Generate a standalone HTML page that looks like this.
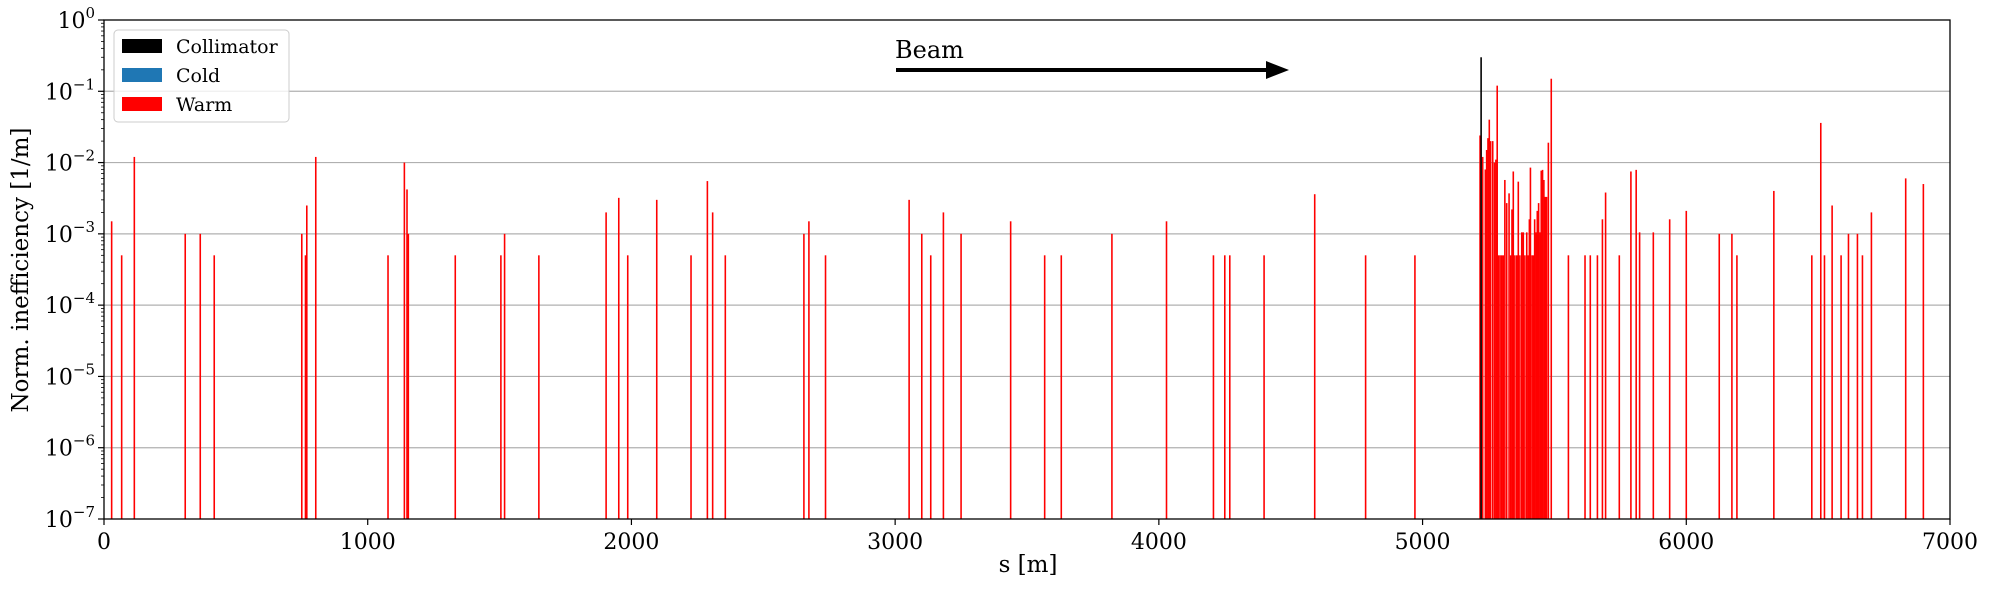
<!DOCTYPE html>
<html><head><meta charset="utf-8"><style>
body{margin:0;background:#fff;}
svg{display:block;font-family:"DejaVu Serif","Liberation Serif",serif;}
</style></head><body>
<svg id="chart" width="1989" height="590" xmlns="http://www.w3.org/2000/svg">
<g id="grid"></g>
<g id="bars"></g>
<g id="axes"></g>
<text x="1028" y="572" font-size="23" text-anchor="middle">s [m]</text>
<text transform="translate(28,270) rotate(-90)" font-size="23" text-anchor="middle">Norm. inefficiency [1/m]</text>
<g>
<text x="895" y="58" font-size="24">Beam</text>
<line x1="896" y1="70" x2="1268" y2="70" stroke="#000" stroke-width="4"/>
<polygon points="1266,61 1289,70 1266,79" fill="#000"/>
</g>
<g>
<rect x="114" y="30" width="175" height="92" rx="4" fill="#fff" fill-opacity="0.8" stroke="#ccc"/>
<rect x="122" y="39" width="40" height="14" fill="#000"/>
<text x="176" y="53" font-size="19">Collimator</text>
<rect x="122" y="68" width="40" height="14" fill="#1f77b4"/>
<text x="176" y="82" font-size="19">Cold</text>
<rect x="122" y="97" width="40" height="14" fill="#f00"/>
<text x="176" y="111" font-size="19">Warm</text>
</g>
</svg>
<script>
const warmS = [29,67,115,308,365,418,750,764,769,803,1077,1139,1149,1154,1332,1505,1519,1649,1904,1952,1986,2096,2226,2288,2308,2356,2654,2673,2736,3053,3101,3135,3183,3250,3438,3567,3630,3822,4029,4207,4250,4269,4399,4591,4784,4971,
5218,5228,5238,5243,5248,5253,5258,5266,5273,5278,5283,5288,5294,5300,5306,5312,5319,5328,5334,5339,5344,5350,5357,5363,5369,5376,5382,5388,5395,5401,5405,5409,5415,5420,5425,5430,5435,5440,5445,5450,5455,5460,5465,5470,5477,5488,
5553,5616,5636,5663,5682,5694,5746,5790,5810,5823,5875,5937,6000,6125,6173,6192,6332,6476,6510,6524,6553,6587,6615,6649,6668,6702,6832,6899];
const warmV = [1.5e-3,5e-4,1.2e-2,1e-3,1e-3,5e-4,1e-3,5e-4,2.5e-3,1.2e-2,5e-4,1e-2,4.2e-3,1e-3,5e-4,5e-4,1e-3,5e-4,2e-3,3.2e-3,5e-4,3e-3,5e-4,5.5e-3,2e-3,5e-4,1e-3,1.5e-3,5e-4,3e-3,1e-3,5e-4,2e-3,1e-3,1.5e-3,5e-4,5e-4,1e-3,1.5e-3,5e-4,5e-4,5e-4,5e-4,3.6e-3,5e-4,5e-4,
0.024,0.012,0.008,0.015,0.022,0.04,0.02,0.02,0.01,0.011,0.12,5e-4,5e-4,5e-4,5e-4,5.7e-3,2.7e-3,3.7e-3,5e-4,2.2e-3,7.5e-3,5e-4,5e-4,5.4e-3,5e-4,1.05e-3,1.05e-3,5e-4,1.05e-3,5e-4,1.6e-3,8.5e-3,5e-4,5e-4,1.6e-3,1.05e-3,2.1e-3,2.7e-3,1.05e-3,7.7e-3,7.9e-3,5.7e-3,3.3e-3,3.3e-3,0.019,0.15,
5e-4,5e-4,5e-4,5e-4,1.6e-3,3.8e-3,5e-4,7.5e-3,7.9e-3,1.05e-3,1.05e-3,1.6e-3,2.1e-3,1e-3,1e-3,5e-4,4e-3,5e-4,3.6e-2,5e-4,2.5e-3,5e-4,1e-3,1e-3,5e-4,2e-3,6e-3,5e-3];
const collS = [5222];
const collV = [0.3];
const xTicks = [0,1000,2000,3000,4000,5000,6000,7000];
const yExps = [0,-1,-2,-3,-4,-5,-6,-7];

const L=104,R=1950,T=20,B=519;
const NS="http://www.w3.org/2000/svg";
function xs(s){return L+(s/7000)*(R-L);}
function ys(v){return T+(-Math.log10(v)/7)*(B-T);}
function mk(tag,attrs,parent){const e=document.createElementNS(NS,tag);for(const k in attrs)e.setAttribute(k,attrs[k]);parent.appendChild(e);return e;}
const grid=document.getElementById('grid'),bars=document.getElementById('bars'),axes=document.getElementById('axes');
yExps.forEach(function(p){
  if(p===0||p===-7)return;
  const y=ys(Math.pow(10,p));
  const g=mk('line',{x1:L,x2:R,y1:y,y2:y,stroke:'#b0b0b0','stroke-width':1.2},grid);
  
  
});
const bw=6;
function drawBar(s,v,color,name){
  const x0=xs(s-bw/2),x1=xs(s+bw/2),y=ys(v);
  const r=mk('rect',{x:x0,y:y,width:Math.max(x1-x0,1.4),height:B-y,fill:color},bars);
  
  
}
warmS.forEach(function(s,i){drawBar(s,warmV[i],'#ff0000','warm-bar');});
collS.forEach(function(s,i){drawBar(s,collV[i],'#000000','collimator-bar');});
const frame=mk('rect',{x:L,y:T,width:R-L,height:B-T,fill:'none',stroke:'#000','stroke-width':1.3},axes);


xTicks.forEach(function(t){
  const x=xs(t);
  const tk=mk('line',{x1:x,x2:x,y1:B,y2:B+6,stroke:'#000','stroke-width':1.2},axes);
  
  
  const lb=mk('text',{x:x,y:B+30,'font-size':22,'text-anchor':'middle'},axes);
  lb.textContent=String(t);
  
  
});
yExps.forEach(function(p){
  const y=ys(Math.pow(10,p));
  const tk=mk('line',{x1:L-6,x2:L,y1:y,y2:y,stroke:'#000','stroke-width':1.2},axes);
  
  
  const lb=mk('text',{x:L-9,y:y+8,'font-size':22,'text-anchor':'end'},axes);
  
  
  const b=document.createElementNS(NS,'tspan');b.textContent='10';lb.appendChild(b);
  const sup=document.createElementNS(NS,'tspan');sup.setAttribute('dy','-10');sup.setAttribute('font-size','15');
  sup.textContent=p===0?'0':'\u2212'+(-p);lb.appendChild(sup);
  if(p>-7){for(let m=2;m<10;m++){
    const yy=ys(m*Math.pow(10,p-1));
    const mt=mk('line',{x1:L-3,x2:L,y1:yy,y2:yy,stroke:'#000','stroke-width':0.8},axes);
    
    
  }}
});
</script>
</body></html>
